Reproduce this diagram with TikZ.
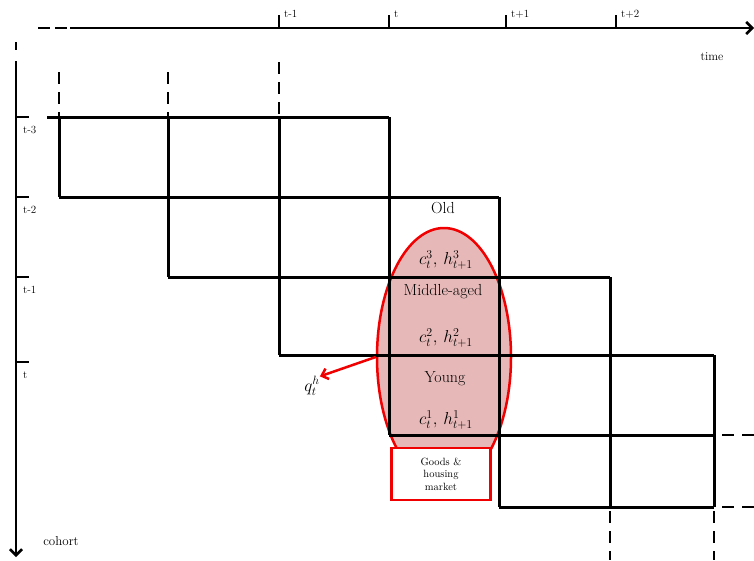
\documentclass[tikz,border=0pt]{standalone}
\usetikzlibrary{arrows.meta,shapes.geometric}
\definecolor{pinkfill}{RGB}{230,185,184}
\definecolor{redline}{RGB}{240,0,0}
\begin{document}
\begin{tikzpicture}[x=1pt,y=-1pt,
  gridline/.style={line width=3pt},
  axisline/.style={line width=2.5pt},
  dashline/.style={line width=2.5pt,dash pattern=on 12pt off 8pt},
  ticklab/.style={font=\fontsize{11}{12}\selectfont,anchor=west,inner sep=0pt},
  agelab/.style={font=\fontsize{16}{17}\selectfont,inner sep=0pt},
  mathlab/.style={font=\fontsize{17}{18}\selectfont,inner sep=0pt},
  redline/.style={draw=redline,line width=2.5pt}]
\useasboundingbox (0,0) rectangle (754,560);
% ellipse
\node[ellipse,fill=pinkfill,redline,minimum width=134pt,minimum height=258pt,inner sep=0pt] (ell) at (444,357) {};
% top axis
\coordinate (ta1) at (70,28);
\coordinate (ta2) at (754,28);
\draw[axisline] (38,28) -- (50,28) (55,28) -- (67,28);
\draw[axisline,-{Straight Barb[length=6pt,width=12pt]}] (ta1) -- (ta2);
\foreach \x/\l in {279/t-1,389/t,506/t+1,616/t+2}{
  \draw[axisline] (\x,15) -- (\x,28);
  \node[ticklab] at (\x+5,14) {\l};
}
\node[font=\fontsize{12}{13}\selectfont] (time) at (712,57) {time};
% left axis
\draw[axisline] (16,42) -- (16,50);
\coordinate (la0) at (16,61);
\coordinate (la1) at (16,557);
\draw[axisline,-{Straight Barb[length=6pt,width=12pt]}] (la0) -- (la1);
\foreach \y/\l in {117/t-3,197/t-2,277/t-1,362/t}{
  \draw[axisline] (16,\y) -- (29,\y);
  \node[ticklab] at (23,\y+13) {\l};
}
\node[font=\fontsize{13}{14}\selectfont] (cohort) at (61,541) {cohort};
% grid
\draw[gridline] (47,117) -- (389,117);
\draw[gridline] (59,197) -- (499,197);
\draw[gridline] (168,277) -- (610,277);
\draw[gridline] (279,355) -- (714,355);
\draw[gridline] (389,435) -- (714,435);
\draw[gridline] (499,507) -- (714,507);
\draw[gridline] (59,117) -- (59,197);
\draw[gridline] (168,117) -- (168,277);
\draw[gridline] (279,117) -- (279,355);
\draw[gridline] (389,117) -- (389,435);
\draw[gridline] (499,197) -- (499,507);
\draw[gridline] (610,277) -- (610,507);
\draw[gridline] (714,355) -- (714,507);
% dashed extensions
\draw[dashline,dash phase=16pt] (59,68) -- (59,117);
\draw[dashline,dash phase=16pt] (168,68) -- (168,117);
\draw[dashline,dash phase=0pt] (279,62) -- (279,117);
\draw[dashline] (610,511) -- (610,560);
\draw[dashline] (714,511) -- (714,560);
\draw[dashline] (722,435) -- (754,435);
\draw[dashline] (722,507) -- (754,507);
% labels
\node[agelab] (old) at (443,208) {Old};
\node[mathlab] (c3) at (446,260) {$c_t^3,\,h_{t+1}^3$};
\node[agelab] (mid) at (443,292) {Middle-aged};
\node[mathlab] (c2) at (446,338) {$c_t^2,\,h_{t+1}^2$};
\node[agelab] (young) at (445,379) {Young};
\node[mathlab] (c1) at (446,420) {$c_t^1,\,h_{t+1}^1$};
% goods box
\node[draw=redline,line width=2.5pt,fill=white,minimum width=99pt,minimum height=52pt,inner sep=0pt,align=center,font=\fontsize{10.5}{12.5}\selectfont] (goods) at (441,474) {Goods \&\\housing\\market};
% q arrow
\node[mathlab] (q) at (312,386) {$q_t^h$};
\draw[redline,-{Straight Barb[length=6pt,width=11pt]}] (ell.west) -- (q.north east);
\end{tikzpicture}
\end{document}
